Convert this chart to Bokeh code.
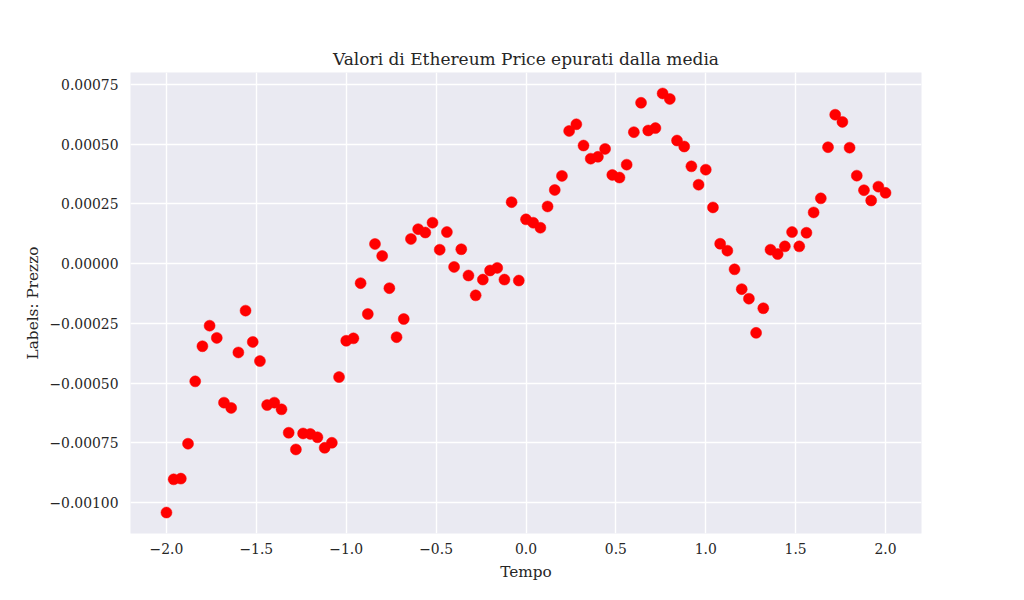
from bokeh.plotting import figure
from bokeh.models import Range1d, FixedTicker
from bokeh.embed import file_html
from bokeh.resources import INLINE

# Data
tempo = [round(-2.0 + 0.04 * i, 2) for i in range(101)]
prezzo = [
    -0.001042, -0.000903, -0.000900, -0.000754, -0.000493, -0.000346, -0.000260, -0.000311,
    -0.000582, -0.000604, -0.000372, -0.000197, -0.000328, -0.000408, -0.000592, -0.000582,
    -0.000610, -0.000708, -0.000778, -0.000711, -0.000713, -0.000727, -0.000771, -0.000750,
    -0.000475, -0.000323, -0.000313, -0.000082, -0.000211, 0.000082, 0.000032, -0.000103,
    -0.000308, -0.000232, 0.000103, 0.000144, 0.000130, 0.000171, 0.000058, 0.000132,
    -0.000014, 0.000060, -0.000050, -0.000133, -0.000067, -0.000029, -0.000018, -0.000067,
    0.000257, -0.000071, 0.000185, 0.000171, 0.000150, 0.000239, 0.000308, 0.000367,
    0.000555, 0.000583, 0.000494, 0.000439, 0.000447, 0.000480, 0.000371, 0.000360,
    0.000414, 0.000550, 0.000673, 0.000557, 0.000567, 0.000712, 0.000689, 0.000515,
    0.000490, 0.000407, 0.000330, 0.000393, 0.000235, 0.000083, 0.000054, -0.000024,
    -0.000107, -0.000147, -0.000290, -0.000187, 0.000058, 0.000040, 0.000072, 0.000132,
    0.000072, 0.000129, 0.000214, 0.000273, 0.000487, 0.000623, 0.000593, 0.000485,
    0.000368, 0.000307, 0.000264, 0.000322, 0.000296,
]

x_ticks = [-2.0, -1.5, -1.0, -0.5, 0.0, 0.5, 1.0, 1.5, 2.0]
x_labels = ["\u22122.0", "\u22121.5", "\u22121.0", "\u22120.5", "0.0", "0.5", "1.0", "1.5", "2.0"]
y_ticks = [-0.001, -0.00075, -0.0005, -0.00025, 0.0, 0.00025, 0.0005, 0.00075]
y_labels = ["\u22120.00100", "\u22120.00075", "\u22120.00050", "\u22120.00025",
            "0.00000", "0.00025", "0.00050", "0.00075"]

title_text = "Valori di Ethereum Price epurati dalla media"
x_label = "Tempo"
y_label = "Labels: Prezzo"

FONT = "DejaVu Serif"
TXT = "#262626"

xspan = max(tempo) - min(tempo)
yspan = max(prezzo) - min(prezzo)

p = figure(
    output_backend="svg", toolbar_location=None,
    frame_width=791, frame_height=461,
    min_border_left=130, min_border_right=87, min_border_top=72, min_border_bottom=51,
    x_range=Range1d(min(tempo) - 0.05 * xspan, max(tempo) + 0.05 * xspan),
    y_range=Range1d(min(prezzo) - 0.05 * yspan, max(prezzo) + 0.05 * yspan),
    title=title_text,
)
p.background_fill_color = "#EAEAF2"
p.border_fill_color = "white"
p.outline_line_color = None

p.title.text_font = FONT
p.title.text_font_size = "17px"
p.title.text_font_style = "normal"
p.title.text_color = TXT
p.title.align = "center"
p.title.standoff = 8

for ax in (p.xaxis[0], p.yaxis[0]):
    ax.axis_line_color = None
    ax.major_tick_line_color = None
    ax.minor_tick_line_color = None
    ax.major_tick_out = 0
    ax.major_tick_in = 0
    ax.major_label_text_font = FONT
    ax.major_label_text_font_size = "13.9px"
    ax.major_label_text_color = TXT
    ax.axis_label_text_font = FONT
    ax.axis_label_text_font_size = "15.3px"
    ax.axis_label_text_font_style = "normal"
    ax.axis_label_text_color = TXT

p.xaxis[0].ticker = FixedTicker(ticks=x_ticks)
p.xaxis[0].major_label_overrides = {t: l for t, l in zip(x_ticks, x_labels)}
p.yaxis[0].ticker = FixedTicker(ticks=y_ticks)
p.yaxis[0].major_label_overrides = {t: l for t, l in zip(y_ticks, y_labels)}
p.xaxis[0].axis_label = x_label
p.yaxis[0].axis_label = y_label
p.xaxis[0].major_label_standoff = 9
p.yaxis[0].major_label_standoff = 12
p.xaxis[0].axis_label_standoff = 6
p.yaxis[0].axis_label_standoff = 4

p.xgrid.grid_line_color = "white"
p.ygrid.grid_line_color = "white"
p.xgrid.grid_line_width = 1.4
p.ygrid.grid_line_width = 1.4
p.xgrid.minor_grid_line_color = None
p.ygrid.minor_grid_line_color = None

p.scatter(tempo, prezzo, size=11, fill_color="#FF0000", line_color="#FF0000", line_width=0.5)

open("out.html", "w").write(file_html(p, INLINE))
